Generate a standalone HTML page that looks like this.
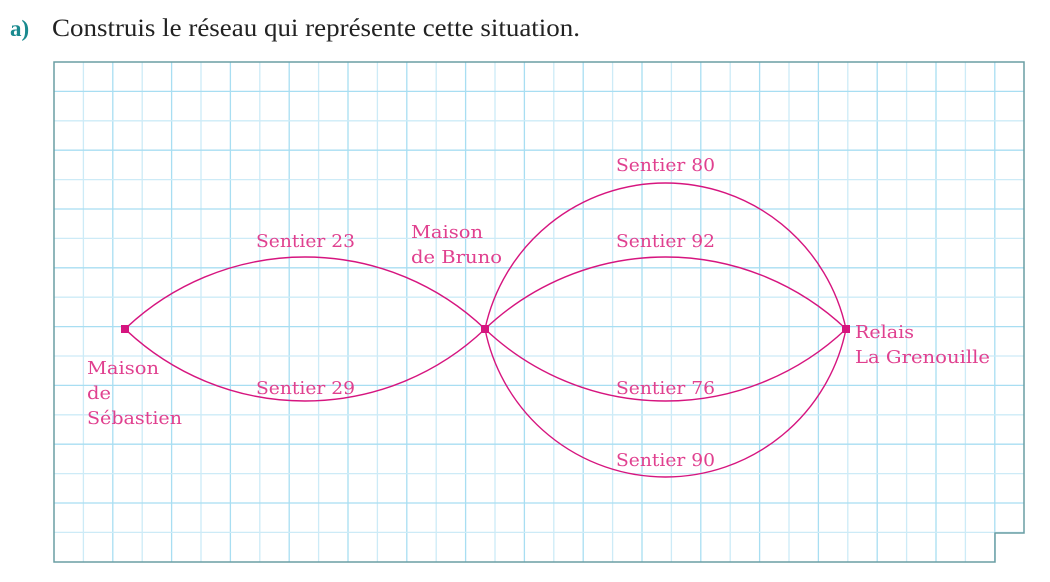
<!DOCTYPE html>
<html><head><meta charset="utf-8"><style>
body{margin:0;width:1050px;height:577px;background:#fff;overflow:hidden;font-family:"Liberation Serif",serif}
</style></head><body>
<svg width="1050" height="577" xmlns="http://www.w3.org/2000/svg">
<text x="10" y="36" font-family="Liberation Serif, serif" font-size="23" font-weight="bold" fill="#1a8a8f">a)</text>
<text x="52" y="36" font-family="Liberation Serif, serif" font-size="25" fill="#222" textLength="528" lengthAdjust="spacingAndGlyphs">Construis le réseau qui représente cette situation.</text>
<g id="grid"></g>
<path d="M54,62 H1024 V533 H995 V562 H54 Z" fill="none" stroke="#6a9ea3" stroke-width="1.5"/>
<g id="edges" fill="none" stroke="#d6157f" stroke-width="1.4"></g>
<g id="nodes" fill="#d6157f"></g>
<g font-family="DejaVu Serif, Liberation Serif, serif" font-size="18" fill="#e0408f">
<text x="256" y="247" textLength="99" lengthAdjust="spacingAndGlyphs">Sentier 23</text>
<text x="256" y="394" textLength="99" lengthAdjust="spacingAndGlyphs">Sentier 29</text>
<text x="616" y="171" textLength="99" lengthAdjust="spacingAndGlyphs">Sentier 80</text>
<text x="616" y="247" textLength="99" lengthAdjust="spacingAndGlyphs">Sentier 92</text>
<text x="616" y="394" textLength="99" lengthAdjust="spacingAndGlyphs">Sentier 76</text>
<text x="616" y="466" textLength="99" lengthAdjust="spacingAndGlyphs">Sentier 90</text>
<text x="411" y="238" textLength="72" lengthAdjust="spacingAndGlyphs">Maison</text>
<text x="411" y="263" textLength="91" lengthAdjust="spacingAndGlyphs">de Bruno</text>
<text x="87" y="374" textLength="72" lengthAdjust="spacingAndGlyphs">Maison</text>
<text x="87" y="399" textLength="24" lengthAdjust="spacingAndGlyphs">de</text>
<text x="87" y="424" textLength="95" lengthAdjust="spacingAndGlyphs">Sébastien</text>
<text x="855" y="338" textLength="59" lengthAdjust="spacingAndGlyphs">Relais</text>
<text x="855" y="363" textLength="135" lengthAdjust="spacingAndGlyphs">La Grenouille</text>
</g>
</svg>
<script>
const nodeNames=['sebastien','bruno','relais'];
const nodeX=[125,485,846];
const edgeNames=['sentier-23','sentier-29','sentier-80','sentier-90','sentier-92','sentier-76'];
const edgeFrom=[0,0,1,1,1,1];
const edgeTo=[1,1,2,2,2,2];
const edgeBulge=[72,-72,146,-148,72,-72];
const NS='http://www.w3.org/2000/svg';
const cy=329;
const g=document.getElementById('grid');
for(let k=1;k<33;k++){const x=54+k*29.4;const l=document.createElementNS(NS,'line');
l.setAttribute('x1',x);l.setAttribute('x2',x);l.setAttribute('y1',62);l.setAttribute('y2',x>995?533:562);
l.setAttribute('stroke',k%2?'#cdebf7':'#a8def2');l.setAttribute('stroke-width',1.3);


g.appendChild(l);}
for(let k=1;k<17;k++){const y=62+k*29.4;const l=document.createElementNS(NS,'line');
l.setAttribute('x1',54);l.setAttribute('x2',1024);l.setAttribute('y1',y);l.setAttribute('y2',y);
l.setAttribute('stroke',k%2?'#a8def2':'#cdebf7');l.setAttribute('stroke-width',1.3);


g.appendChild(l);}
const eg=document.getElementById('edges');
edgeNames.forEach((n,i)=>{const x1=nodeX[edgeFrom[i]],x2=nodeX[edgeTo[i]];const h=(x2-x1)/2;const s=Math.abs(edgeBulge[i]);
const r=(h*h+s*s)/(2*s);const sweep=edgeBulge[i]>0?1:0;
const p=document.createElementNS(NS,'path');
p.setAttribute('d',`M${x1},${cy} A${r},${r} 0 0 ${sweep} ${x2},${cy}`);


eg.appendChild(p);});
const ng=document.getElementById('nodes');
nodeNames.forEach((n,i)=>{const r=document.createElementNS(NS,'rect');
r.setAttribute('x',nodeX[i]-4);r.setAttribute('y',cy-4);r.setAttribute('width',8);r.setAttribute('height',8);


ng.appendChild(r);});
</script>
</body></html>
